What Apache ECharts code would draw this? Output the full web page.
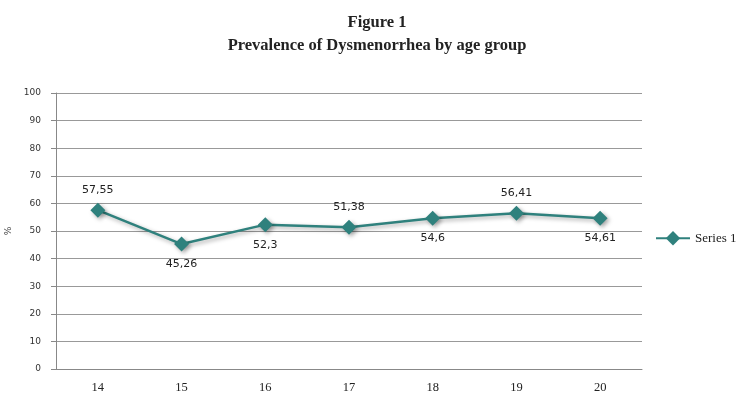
<!DOCTYPE html>
<html><head><meta charset="utf-8">
<script src="https://cdn.jsdelivr.net/npm/echarts@6/dist/echarts.min.js"></script>
<style>html,body{margin:0;padding:0;background:#fff}#c{width:743px;height:406px}</style>
</head><body><div id="c"></div>
<script>
const categories = ['14','15','16','17','18','19','20'];
const values = [57.55, 45.26, 52.3, 51.38, 54.6, 56.41, 54.61];
const labelPos = ['top','bottom','bottom','top','bottom','top','bottom'];
const seriesName = 'Series 1';
const color = '#2F817D';
const chart = echarts.init(document.getElementById('c'));
chart.setOption({
  animation:false,
  title:{
    text:'Figure 1\nPrevalence of Dysmenorrhea by age group',
    left:372, top:6, textAlign:'center',
    textStyle:{fontFamily:'Liberation Serif',fontWeight:'bold',fontSize:16.5,lineHeight:23,color:'#222'}
  },
  legend:{
    data:[{name:seriesName}], left:650, top:226, orient:'vertical',
    itemWidth:34, itemHeight:18, itemGap:6,
    textStyle:{fontFamily:'Liberation Serif',fontSize:13,color:'#222'}
  },
  grid:{left:56,right:101,top:93,bottom:37,containLabel:false,outerBoundsMode:'none'},
  xAxis:{
    type:'category', data:categories, boundaryGap:true,
    axisLine:{lineStyle:{color:'#888'}},
    axisTick:{show:false},
    axisLabel:{fontFamily:'Liberation Serif',fontSize:12.5,color:'#222',margin:12}
  },
  yAxis:{
    type:'value', min:0, max:100, interval:10,
    name:'%', nameLocation:'middle', nameGap:43, nameRotate:90,
    nameTextStyle:{fontFamily:'DejaVu Sans',fontSize:9,color:'#444'},
    axisLine:{show:true,lineStyle:{color:'#888'}},
    axisTick:{show:true,length:5,lineStyle:{color:'#888'}},
    splitLine:{lineStyle:{color:'#999'}},
    axisLabel:{fontFamily:'DejaVu Sans',fontSize:9,color:'#333',margin:15}
  },
  series:[{
    name:seriesName, type:'line', data:values.map((v,i)=>({value:v,label:{position:labelPos[i]}})),
    symbol:'diamond', symbolSize:15,
    lineStyle:{color:color,width:2.5,shadowColor:'rgba(0,0,0,0.35)',shadowBlur:4,shadowOffsetX:2,shadowOffsetY:2},
    itemStyle:{color:color,shadowColor:'rgba(0,0,0,0.35)',shadowBlur:4,shadowOffsetX:2,shadowOffsetY:2},
    label:{show:true,distance:7,fontFamily:'DejaVu Sans',fontSize:11,color:'#222',
      formatter:p=>String(p.value).replace('.',',')}
  }]
});
</script></body></html>
